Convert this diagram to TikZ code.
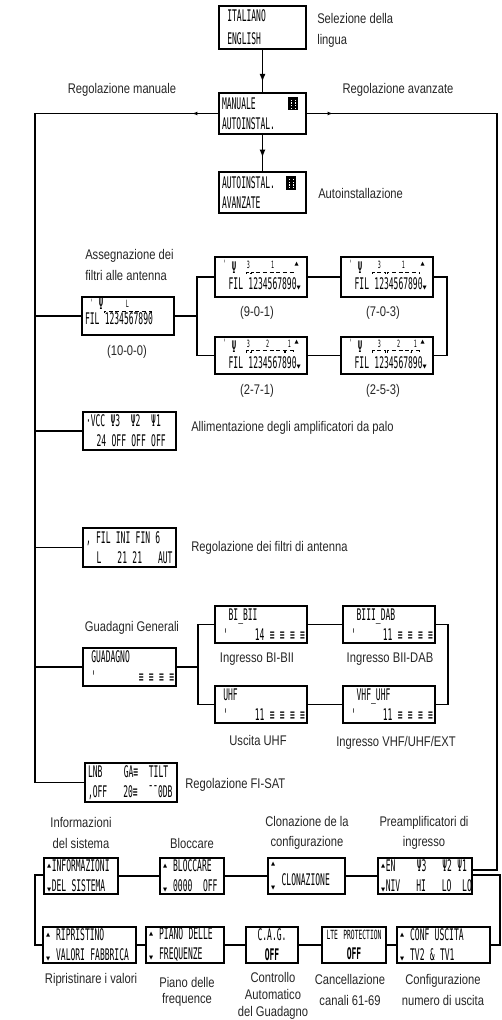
\documentclass[tikz,border=0pt]{standalone}
\usepackage{fontspec}
\setmainfont{Liberation Sans}[FakeStretch=0.8]
\newfontfamily\lcd{DejaVu Sans Mono}[FakeStretch=0.5]
\newfontfamily\symf{DejaVu Sans}
\usetikzlibrary{positioning,arrows.meta,calc,decorations.markings}

\newcommand{\lblfont}{\fontsize{10.5}{15.5}\selectfont}
\newcommand{\lcdf}{\lcd\fontsize{12}{15}\selectfont}
\newcommand{\up}{\leavevmode\rlap{\raisebox{3pt}{\symf\fontsize{4}{4}\selectfont ▲}}\hphantom{0}}
\newcommand{\dn}{\leavevmode\rlap{\symf\fontsize{4}{4}\selectfont ▼}\hphantom{0}}
\newcommand{\selicon}{\tikz[baseline=0pt,x=1pt,y=1pt]{\fill (0,-0.5) rectangle (8,9.5);
  \draw[white,line width=0.6pt,dash pattern=on 1pt off 1pt] (2.5,0.5)--(2.5,8.5) (5.5,0.5)--(5.5,8.5);}}
% top row of a filter display: tick and antenna sign
\newcommand{\filtop}[2]{%
  \node[lcdcap] (#1-t) at ($(#1.west)+(3+1.5*4.816,-13)$) {'};
  \node[font=\lcdf, inner sep=0pt] (#1-a) at ($(#1.west)+(3+3.5*4.816,#2)$) {Ψ};}
\newcommand{\filend}[1]{%
  \node[inner sep=0pt] (#1-u) at ($(#1.west)+(3+16.5*4.816,-13)$) {\symf\fontsize{4}{4}\selectfont ▲};}
% bracket over digit columns #2..#3 with antenna number #4
\newcommand{\filgrp}[4]{%
  \draw[brk] ($(#1.west)+({3+(#2-1)*4.816+0.7},-3)$) -- ++(0,-2)
    -- ($(#1.west)+({3+#3*4.816-0.7},-5)$) -- ++(0,2);
  \node[lcdcap] (#1-g#4) at ($(#1.west)+({3+(#2-1+#3)*2.408},-12)$) {#4};}

\begin{document}
\begin{tikzpicture}[x=0.75pt, y=-0.75pt,
  lcd/.style 2 args={draw, line width=1.3pt, font=\lcdf, minimum width=#1*0.75pt,
    minimum height=#2*0.75pt, text width={(#1-6)*0.75pt}, align=left, inner xsep=0pt, inner ysep=0pt},
  filtxt/.style={text height=19.2pt, text depth=0pt},
  lcdcap/.style={font=\lcd\fontsize{7.5}{8}\selectfont, inner sep=0pt},
  brk/.style={line width=0.5pt, densely dashed},
  conn/.style={line width=1pt},
  lbl/.style={font=\lblfont, align=center, inner sep=0pt, text=black!85},
  marrow/.style={postaction={decorate}, decoration={markings,
    mark=at position #1 with {\arrow{Latex[length=6pt,width=4.5pt]}}}},
  sarrow/.style={postaction={decorate}, decoration={markings,
    mark=at position 19.5pt with {\arrow{Latex[length=4pt,width=3pt]}}}}]
\useasboundingbox (0,0) rectangle (502,1020);

% menu displays
\node[lcd={87}{43}] (lang) at (262.5,27.5) {~ITALIANO\\[2pt]~ENGLISH};
\node[lcd={87}{41}] (mode) at (262.5,113.5) {MANUALE~~~~~~\selicon\\AUTOINSTAL.};
\node[lcd={87}{41}] (auto) at (262.5,192.5) {AUTOINSTAL.~~\selicon\\AVANZATE};

\node[lcd={92}{38}, text height=13.2pt, text depth=0pt] (fil0) at (128,316) {FIL~1234567890};
\node[lcd={92}{40}, filtxt] (fil1) at (261,277) {~~FIL~1234567890\dn};
\node[lcd={92}{40}, filtxt] (fil2) at (387,277) {~~FIL~1234567890\dn};
\node[lcd={92}{37}, filtxt] (fil3) at (261,355.5) {~~FIL~1234567890\dn};
\node[lcd={92}{37}, filtxt] (fil4) at (387,355.5) {~~FIL~1234567890\dn};
\filtop{fil0}{-12} \filgrp{fil0}{5}{14}{L}
\filtop{fil1}{-9} \filgrp{fil1}{7}{7}{3} \filgrp{fil1}{8}{16}{1} \filend{fil1}
\filtop{fil2}{-9} \filgrp{fil2}{7}{9}{3} \filgrp{fil2}{10}{16}{1} \filend{fil2}
\filtop{fil3}{-9} \filgrp{fil3}{7}{7}{3} \filgrp{fil3}{8}{14}{2} \filgrp{fil3}{15}{16}{1} \filend{fil3}
\filtop{fil4}{-9} \filgrp{fil4}{7}{9}{3} \filgrp{fil4}{10}{14}{2} \filgrp{fil4}{15}{16}{1} \filend{fil4}

\node[lcd={93}{38}] (vcc) at (129.5,431) {·VCC~Ψ3~~Ψ2~~Ψ1\\~~24~OFF~OFF~OFF};
\node[lcd={93}{39}] (flt) at (129.5,547.5) {,~FIL~INI~FIN~6\\~~L~~~21~21~~~AUT};

\node[lcd={93}{38}] (gain) at (129.5,667) {~GUADAGNO\\~'~~~~~~~~≡~≡~≡~≡};
\node[lcd={92}{37}] (bibii) at (261,624.5) {~~BI\_BII\\~'~~~~~14~≡~≡~≡~≡};
\node[lcd={92}{37}] (biii) at (389,624.5) {~~BIII\_DAB\\~'~~~~~11~≡~≡~≡~≡};
\node[lcd={92}{37}] (uhf) at (261,704.5) {~UHF\\~'~~~~~11~≡~≡~≡~≡};
\node[lcd={92}{37}] (vhf) at (389,704.5) {~~VHF\_UHF\\~'~~~~~11~≡~≡~≡~≡};
\node[lcd={92}{39}] (lnb) at (131,782.5) {LNB~~~~GA≡~~TILT\\,OFF~~~20≡~~¯¯0DB};

\node[lcd={74}{36}] (info) at (81,876) {\up INFORMAZIONI\\\dn DEL~SISTEMA};
\node[lcd={64}{36}] (lock) at (192,876) {\up~BLOCCARE\\\dn~0000~~OFF};
\node[lcd={77}{36}] (clone) at (306.5,876) {\up\\[-3pt]~~CLONAZIONE\\[-12pt]\dn};
\node[lcd={94}{36}] (pre) at (425,876) {\up EN~~~~Ψ3~~~Ψ2~Ψ1\\\dn NIV~~~HI~~~LO~~LO};

\node[lcd={93}{36}] (reset) at (89.5,945) {\up~RIPRISTINO\\\dn~VALORI~FABBRICA};
\node[lcd={78}{36}] (plan) at (185,945) {\up~PIANO~DELLE\\\dn~FREQUENZE};
\node[lcd={52}{36}, align=center] (cag) at (272,945) {C.A.G.\\\textbf{OFF}};
\node[lcd={64}{36}, align=center] (lte) at (354,945) {{\fontsize{9.5}{10}\selectfont LTE~PROTECTION}\\\textbf{OFF}};
\node[lcd={93}{36}] (conf) at (443.5,945) {\up~CONF~USCITA\\\dn~TV2~\&~TV1};

% captions
\node[lbl, anchor=west, align=left] (sel) at (317,30.5) {Selezione della\\lingua};
\node[lbl] (lman) at (122,90) {Regolazione manuale};
\node[lbl] (lava) at (398,90) {Regolazione avanzate};
\node[lbl, anchor=west] (lauto) at (318,193) {Autoinstallazione};
\node[lbl, anchor=west, align=left] (lass) at (85,265) {Assegnazione dei\\filtri alle antenna};
\node[lbl] (l10) at (127,352) {(10-0-0)};
\node[lbl] (l901) at (257,313) {(9-0-1)};
\node[lbl] (l703) at (383,313) {(7-0-3)};
\node[lbl] (l271) at (257,391) {(2-7-1)};
\node[lbl] (l253) at (383,391) {(2-5-3)};
\node[lbl, anchor=west] (lvcc) at (191,428) {Allimentazione degli amplificatori da palo};
\node[lbl, anchor=west] (lflt) at (191,548) {Regolazione dei filtri di antenna};
\node[lbl] (lgg) at (132,628) {Guadagni Generali};
\node[lbl] (lbi) at (257,659) {Ingresso BI-BII};
\node[lbl] (lbiii) at (390,659) {Ingresso BII-DAB};
\node[lbl] (luhf) at (258,740) {Uscita UHF};
\node[lbl] (lvhf) at (396,743) {Ingresso VHF/UHF/EXT};
\node[lbl, anchor=west] (lsat) at (185,785) {Regolazione FI-SAT};
\node[lbl] (linfo) at (81,833) {Informazioni\\del sistema};
\node[lbl] (llock) at (192,843) {Bloccare};
\node[lbl] (lclone) at (307,833) {Clonazione de la\\configurazione};
\node[lbl] (lpre) at (424,833) {Preamplificatori di\\ingresso};
\node[lbl] (lreset) at (91,980) {Ripristinare i valori};
\node[lbl, font=\fontsize{10.5}{12}\selectfont] (lplan) at (187,992) {Piano delle\\frequence};
\node[lbl, font=\fontsize{10.5}{12.5}\selectfont] (lcag) at (273,996) {Controllo\\Automatico\\del Guadagno};
\node[lbl] (llte) at (350,990) {Cancellazione\\canali 61-69};
\node[lbl] (lconf) at (443,990) {Configurazione\\numero di uscita};

% junctions
\coordinate (lb) at (35,782.5);
\coordinate (rt) at (497,113.5);
\coordinate (lm) at (35,910);
\coordinate (rm) at (500,910);
\coordinate (fj) at (197,316);
\coordinate (fk) at (447,316);
\coordinate (gj) at (198,667);
\coordinate (gk) at (448,664.5);

% connectors
\draw[conn, marrow=24pt] (lang) -- (mode);
\draw[conn, marrow=17pt] (mode) -- (auto);
\draw[conn, sarrow] (mode.west) -| (lb) -- (lnb.west);
\draw[conn, sarrow] (mode.east) -- (rt) |- ($(pre.east)+(0,-6)$);
\foreach \b in {fil0,vcc,flt,gain}
  \draw[conn] (\b.west) -- (\b.west -| lb);
\draw[conn] (fil0.east) -- (fj);
\draw[conn] (fil1.west) -| (fj) |- (fil3.west);
\draw[conn] (fil1) -- (fil2);
\draw[conn] (fil3) -- (fil4);
\draw[conn] (fil2.east) -| (fk) |- (fil4.east);
\draw[conn] (gain.east) -- (gj);
\draw[conn] (bibii.west) -| (gj) |- (uhf.west);
\draw[conn] (bibii) -- (biii);
\draw[conn] (uhf) -- (vhf);
\draw[conn] (biii.east) -| (gk) |- (vhf.east);
\draw[conn] (info) -- (lock);
\draw[conn] (lock) -- (clone);
\draw[conn] (clone) -- (pre);
\draw[conn] (reset) -- (plan);
\draw[conn] (plan) -- (cag);
\draw[conn] (cag) -- (lte);
\draw[conn] (lte) -- (conf);
\draw[conn] ($(info.west)+(0,-1)$) -| (lm) |- (reset.west);
\draw[conn] ($(pre.east)+(0,-1)$) -| (rm) |- (conf.east);
\end{tikzpicture}
\end{document}
